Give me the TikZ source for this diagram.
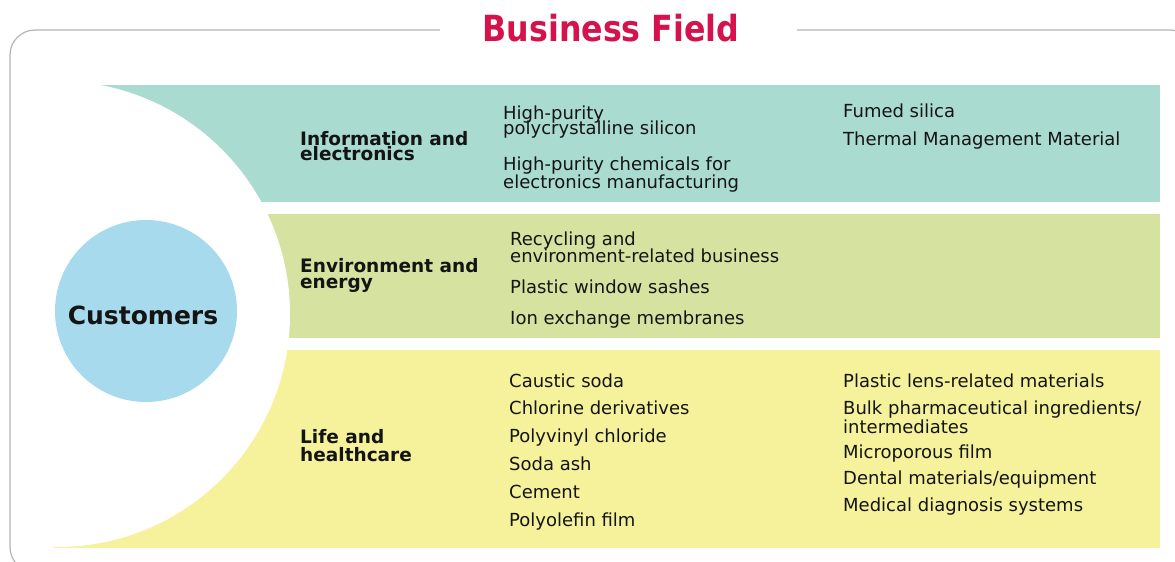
\documentclass[tikz,border=0pt]{standalone}
\usepackage{fontspec}
\usepackage{graphicx}
\setmainfont{DejaVu Sans}
\definecolor{bandteal}{HTML}{A9DBD0}
\definecolor{bandgreen}{HTML}{D5E2A0}
\definecolor{bandyellow}{HTML}{F6F29B}
\definecolor{custblue}{HTML}{A8DAEE}
\definecolor{titlered}{HTML}{D5124C}
\definecolor{framegray}{HTML}{B4B4B4}
\definecolor{textdark}{HTML}{141414}
\newcommand\twolines[3]{\vtop{\baselineskip=#1pt\lineskiplimit=-100pt\hbox{#2}\hbox{#3}}}
\tikzset{
  txt/.style={anchor=base west, inner sep=0pt, text=textdark, font=\fontsize{18}{18}\selectfont},
  lbl/.style={anchor=base west, inner sep=0pt, text=textdark, font=\fontsize{18.5}{18.5}\selectfont\bfseries},
}
\begin{document}
\begin{tikzpicture}[x=1pt,y=-1pt]
\useasboundingbox (0,0) rectangle (1175,562);
\clip (0,0) rectangle (1175,562);
% bands
\fill[bandteal] (50,85) rectangle (1160,202);
\fill[bandgreen] (50,214) rectangle (1160,338);
\fill[bandyellow] (53,350) rectangle (1160,548);
% white circle cut-out
\fill[white] (57,314) circle[radius=233pt];
% frame
\draw[framegray, line width=1.2pt, rounded corners=25pt] (10,30) rectangle (1195,572);
\fill[white] (440,20) rectangle (797,40);
\node[anchor=base, inner sep=0pt, text=titlered, font=\fontsize{36}{36}\selectfont\bfseries] (title) at (611,41) {\scalebox{0.88}[1]{Business Field}};
% customers
\node[circle, fill=custblue, minimum size=182pt, inner sep=0pt] (cc) at (146,311) {};
\node[inner sep=0pt, text=textdark, font=\fontsize{25}{25}\selectfont\bfseries] (ct) at (143,315) {Customers};
% Information and electronics
\node[lbl] (l1) at (300,145) {\twolines{15.5}{Information and}{electronics}};
\node[txt] (a1) at (503,119) {\twolines{15}{High-purity}{polycrystalline silicon}};
\node[txt] (a3) at (503,170) {\twolines{18}{High-purity chemicals for}{electronics manufacturing}};
\node[txt] (a5) at (843,117) {Fumed silica};
\node[txt] (a6) at (843,145) {Thermal Management Material};
% Environment and energy
\node[lbl] (l2) at (300,272) {\twolines{16}{Environment and}{energy}};
\node[txt] (b1) at (510,245) {\twolines{17}{Recycling and}{environment-related business}};
\node[txt] (b3) at (510,293) {Plastic window sashes};
\node[txt] (b4) at (510,324) {Ion exchange membranes};
% Life and healthcare
\node[lbl] (l3) at (300,443) {\twolines{18}{Life and}{healthcare}};
\node[txt] (c1) at (509,387) {Caustic soda};
\node[txt] (c2) at (509,414) {Chlorine derivatives};
\node[txt] (c3) at (509,442) {Polyvinyl chloride};
\node[txt] (c4) at (509,470) {Soda ash};
\node[txt] (c5) at (509,498) {Cement};
\node[txt] (c6) at (509,526) {Polyolefin film};
\node[txt] (d1) at (843,387) {Plastic lens-related materials};
\node[txt] (d2) at (843,414) {\twolines{19}{Bulk pharmaceutical ingredients/}{intermediates}};
\node[txt] (d4) at (843,458) {Microporous film};
\node[txt] (d5) at (843,484) {Dental materials/equipment};
\node[txt] (d6) at (843,511) {Medical diagnosis systems};
\end{tikzpicture}
\end{document}
